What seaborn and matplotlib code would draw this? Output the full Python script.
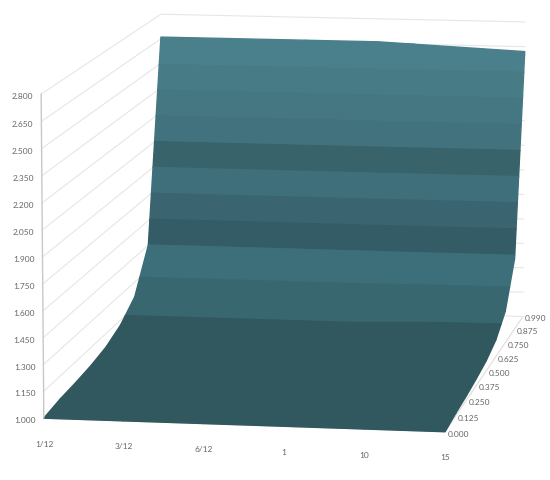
import numpy as np
import matplotlib
matplotlib.use('Agg')
import matplotlib.pyplot as plt
import seaborn as sns
from mpl_toolkits.mplot3d.art3d import Poly3DCollection

x_labels = ['1/12', '3/12', '6/12', '1', '10', '15']
y_labels = ['0.000', '0.125', '0.250', '0.375', '0.500', '0.625', '0.750', '0.875', '0.990']
z_ticks = [1.0, 1.15, 1.3, 1.45, 1.6, 1.75, 1.9, 2.05, 2.2, 2.35, 2.5, 2.65, 2.8]
z_tick_labels = ['1.000', '1.150', '1.300', '1.450', '1.600', '1.750', '1.900',
                 '2.050', '2.200', '2.350', '2.500', '2.650', '2.800']

# one row per y category, one value per x category
row_000 = [1.00, 1.00, 1.00, 1.00, 1.00, 1.00]
row_125 = [1.02, 1.02, 1.02, 1.02, 1.015, 1.015]
row_250 = [1.03, 1.03, 1.03, 1.03, 1.025, 1.025]
row_375 = [1.045, 1.045, 1.045, 1.045, 1.04, 1.04]
row_500 = [1.07, 1.07, 1.07, 1.07, 1.06, 1.06]
row_625 = [1.12, 1.12, 1.12, 1.12, 1.10, 1.10]
row_750 = [1.21, 1.21, 1.21, 1.21, 1.20, 1.19]
row_875 = [1.45, 1.45, 1.45, 1.45, 1.44, 1.43]
row_990 = [2.66, 2.66, 2.66, 2.66, 2.64, 2.62]

# surface colour of each value band, lowest first
band_colors = ['#31575f', '#386770', '#3c6f7a', '#335c66', '#3a6570', '#3f6f7a',
               '#38636b', '#43727f', '#457782', '#477b86', '#4a808c', '#4a808c']

TEXT = '#666666'
GRID = '#e6e6e6'


def clip(poly, level, keep_above):
    # cut a polygon with the plane z = level
    out = []
    for a, b in zip(poly, poly[1:] + poly[:1]):
        a_in = a[2] >= level if keep_above else a[2] <= level
        b_in = b[2] >= level if keep_above else b[2] <= level
        if a_in:
            out.append(a)
        if a_in != b_in:
            t = (level - a[2]) / (b[2] - a[2])
            out.append(tuple(a[k] + t * (b[k] - a[k]) for k in range(3)))
    return out


sns.set_theme(style='white')
plt.rcParams['font.family'] = ['Lato', 'DejaVu Sans']

surface = np.array([row_000, row_125, row_250, row_375, row_500, row_625, row_750, row_875, row_990])
nx, ny = len(x_labels), len(y_labels)
x_end, y_end = nx - 1, ny - 1

fig = plt.figure(figsize=(5.5, 4.81), dpi=100)
ax = fig.add_axes([13.5 / 550, 21.7 / 481, 1, 1], projection='3d', computed_zorder=False)
ax.set_xlim(0, x_end)
ax.set_ylim(0, y_end)
ax.set_zlim(z_ticks[0], z_ticks[-1])
ax.view_init(elev=9.467, azim=-80.532, roll=0.018)
ax.set_proj_type('persp', focal_length=2.043)
ax.set_box_aspect((1.237, 1.915, 1.0), zoom=1.572)
ax.set_xticks([])
ax.set_yticks([])
ax.set_zticks([])
ax.set_axis_off()

# walls: value gridlines on the left and back, then the floor edges
for z in z_ticks:
    ax.plot([0, 0, x_end], [0, y_end, y_end], [z, z, z], color=GRID, lw=0.8, clip_on=False, zorder=1)
ax.plot([x_end, x_end], [0, y_end], [z_ticks[0], z_ticks[0]], color='#dddddd', lw=0.8, clip_on=False, zorder=1)
ax.plot([0, x_end], [0, 0], [z_ticks[0], z_ticks[0]], color='#c4c4c4', lw=0.8, clip_on=False, zorder=1)

# surface, split into value bands
polys, colors = [], []
for j in range(ny - 1):
    for i in range(nx - 1):
        cell = [(i, j, surface[j, i]), (i + 1, j, surface[j, i + 1]),
                (i + 1, j + 1, surface[j + 1, i + 1]), (i, j + 1, surface[j + 1, i])]
        for k, color in enumerate(band_colors):
            piece = clip(cell, z_ticks[k], True)
            if piece:
                piece = clip(piece, z_ticks[k + 1], False)
            if len(piece) >= 3:
                polys.append(piece)
                colors.append(color)
ax.add_collection3d(Poly3DCollection(polys, facecolors=colors, edgecolors=colors, linewidths=1.0,
                                     clip_on=False, zorder=2))

# value axis stands at the front left corner
ax.plot([0, 0], [0, 0], [z_ticks[0], z_ticks[-1]], color='#c8c8c8', lw=1.0, clip_on=False, zorder=3)
for z, label in zip(z_ticks, z_tick_labels):
    ax.text(-0.1, 0, z - 0.01, label, ha='right', va='center', fontsize=6, color=TEXT)
for i, label in enumerate(x_labels):
    ax.text(i, 0, z_ticks[0] - 0.14, label, ha='center', va='center', fontsize=6, color=TEXT)
for j, label in enumerate(y_labels):
    ax.text(x_end + 0.03, j, z_ticks[0] - 0.008, label, ha='left', va='center', fontsize=6, color=TEXT)

fig.savefig('out.png', dpi=100)
